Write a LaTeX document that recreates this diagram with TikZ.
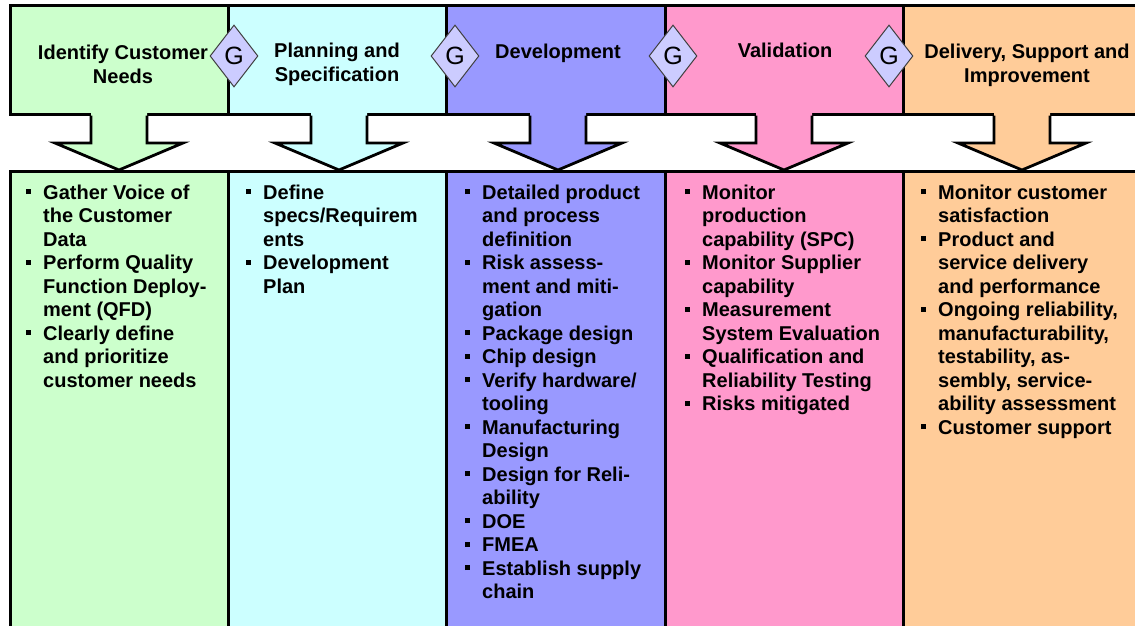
\documentclass[tikz,border=0pt]{standalone}
\usepackage{fontspec}
\setmainfont{Liberation Sans}
\usetikzlibrary{shapes.geometric}
\definecolor{cgreen}{HTML}{CCFFCC}
\definecolor{ccyan}{HTML}{CCFFFF}
\definecolor{cpurple}{HTML}{9999FF}
\definecolor{cpink}{HTML}{FF99CC}
\definecolor{corange}{HTML}{FFCC99}
\definecolor{cgate}{HTML}{CCCCFF}
\newcommand{\blt}{\rule[5pt]{5pt}{5pt}}
\newcommand{\itemlist}[1]{{\renewcommand{\arraystretch}{1}\begin{tabular}{@{}p{5pt}@{\hspace{12pt}}l@{}}#1\end{tabular}}}
\tikzset{
  border/.style={draw=black, line width=3pt},
  head/.style={font=\fontsize{20}{24}\selectfont\bfseries, align=center, inner sep=0pt},
  body/.style={font=\fontsize{20}{23.5}\selectfont\bfseries, anchor=north west, inner sep=0pt},
  gate/.style={shape=diamond, draw=black!75, line width=1pt, fill=cgate, minimum width=48pt, minimum height=62pt, inner sep=0pt, font=\fontsize{25}{28}\selectfont}
}
\begin{document}
\begin{tikzpicture}[x=1pt,y=-1pt]
\useasboundingbox (0,0) rectangle (1135,626);
\clip (0,0) rectangle (1135,626);
\fill[white] (0,0) rectangle (1135,626);
% phase boxes
\foreach \a/\b/\c in {10/228/cgreen, 228/446/ccyan, 446/665/cpurple, 665/903/cpink, 903/1150/corange}{
  \fill[\c] (\a,6) rectangle (\b,114);
  \fill[\c] (\a,171) rectangle (\b,640);
  \draw[border] (\a,6) rectangle (\b,114);
  \draw[border] (\a,171) rectangle (\b,640);
}
% block arrows
\foreach \m/\c in {119/cgreen, 339/ccyan, 558/cpurple, 784/cpink, 1022/corange}{
  \fill[\c] ({\m-28},111) -- ({\m-28},143) -- ({\m-64},143) -- (\m,170) -- ({\m+64},143) -- ({\m+28},143) -- ({\m+28},111) -- cycle;
  \draw[black, line width=2.8pt, line join=miter] ({\m-28},115.6) -- ({\m-28},143) -- ({\m-64},143) -- (\m,170) -- ({\m+64},143) -- ({\m+28},143) -- ({\m+28},115.6);
}
% headers
\node[head] (h1) at (123,64) {Identify Customer\\Needs};
\node[head] (h2) at (337,64) {Planning and\\Specification};
\node[head] (h3) at (558,53) {Development};
\node[head] (h4) at (785,50) {Validation};
\node[head] (h5) at (1027,65) {Delivery, Support and\\Improvement};
% gates
\node[gate] (g1) at (234,56) {G};
\node[gate] (g2) at (455,56) {G};
\node[gate] (g3) at (673,56) {G};
\node[gate] (g4) at (889,56) {G};
% activity lists
\node[body] (l1) at (26,182.5) {\itemlist{
\blt & Gather Voice of\\ & the Customer\\ & Data\\
\blt & Perform Quality\\ & Function Deploy-\\ & ment (QFD)\\
\blt & Clearly define\\ & and prioritize\\ & customer needs}};
\node[body] (l2) at (246,182.5) {\itemlist{
\blt & Define\\ & specs/Requirem\\ & ents\\
\blt & Development\\ & Plan}};
\node[body] (l3) at (465,182.5) {\itemlist{
\blt & Detailed product\\ & and process\\ & definition\\
\blt & Risk assess-\\ & ment and miti-\\ & gation\\
\blt & Package design\\
\blt & Chip design\\
\blt & Verify hardware/\\ & tooling\\
\blt & Manufacturing\\ & Design\\
\blt & Design for Reli-\\ & ability\\
\blt & DOE\\
\blt & FMEA\\
\blt & Establish supply\\ & chain}};
\node[body] (l4) at (685,182.5) {\itemlist{
\blt & Monitor\\ & production\\ & capability (SPC)\\
\blt & Monitor Supplier\\ & capability\\
\blt & Measurement\\ & System Evaluation\\
\blt & Qualification and\\ & Reliability Testing\\
\blt & Risks mitigated}};
\node[body] (l5) at (921,182.5) {\itemlist{
\blt & Monitor customer\\ & satisfaction\\
\blt & Product and\\ & service delivery\\ & and performance\\
\blt & Ongoing reliability,\\ & manufacturability,\\ & testability, as-\\ & sembly, service-\\ & ability assessment\\
\blt & Customer support}};
\end{tikzpicture}
\end{document}
